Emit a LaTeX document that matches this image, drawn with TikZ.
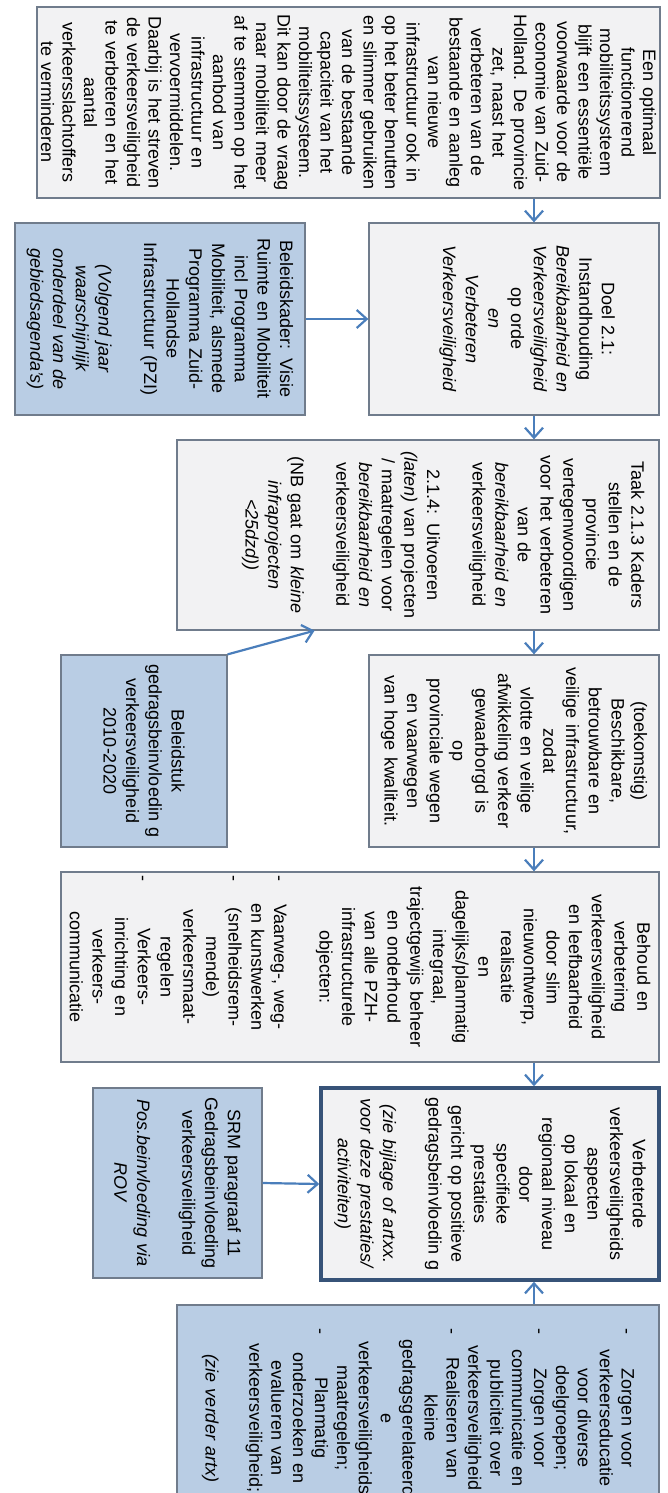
\documentclass[tikz,border=0pt]{standalone}
\usepackage{fontspec}
\setmainfont{Liberation Sans}
\usepackage{xcolor}
\usetikzlibrary{arrows.meta, calc}

\definecolor{boxgray}{RGB}{242,242,243}
\definecolor{boxblue}{RGB}{185,205,228}
\definecolor{edgegray}{RGB}{112,124,140}
\definecolor{edgedark}{RGB}{55,83,120}
\definecolor{arrowblue}{RGB}{74,126,187}

% bullet line: dash at the margin, text centred
\newcommand{\bul}[1]{\leavevmode\hbox to\hsize{\rlap{-}\hfil#1\hfil}}
\newcommand{\gap}{\mbox{}}

\begin{document}
\begin{tikzpicture}[x=1pt, y=-1pt,
    block/.style={rectangle, draw=edgegray, line width=1.3pt, rotate=-90, inner sep=0pt,
        align=center, text width=180pt, font=\fontsize{18}{22.7}\selectfont},
    greyblock/.style={block, fill=boxgray},
    blueblock/.style={block, fill=boxblue},
    line/.style={draw=arrowblue, line width=2.2pt, -{Straight Barb[length=10pt, width=18pt]}}]

    \useasboundingbox (0,0) rectangle (668,1493);
    \clip (0,0) rectangle (668,1493);
    \fill[white] (0,0) rectangle (668,1493);

    % main column
    \node [greyblock, minimum width=191pt, minimum height=623pt, text width=186pt,
        font=\fontsize{18}{21.5}\selectfont] (optimaal) at (348.5,102.5)
        {Een optimaal\\functionerend\\mobiliteitssysteem\\blijft een essentiële\\voorwaarde voor de\\economie van Zuid-\\Holland. De provincie\\zet, naast het\\verbeteren van de\\bestaande en aanleg\\van nieuwe\\infrastructuur ook in\\op het beter benutten\\en slimmer gebruiken\\van de bestaande\\capaciteit van het\\mobiliteitssysteem.\\Dit kan door de vraag\\naar mobiliteit meer\\af te stemmen op het\\aanbod van\\infrastructuur en\\vervoermiddelen.\\Daarbij is het streven\\de verkeersveiligheid\\te verbeteren en het\\aantal\\verkeersslachtoffers\\te verminderen};
    \node [greyblock, minimum width=192pt, minimum height=290pt, text depth=189pt] (doel) at (514,319)
        {Doel 2.1:\\Instandhouding\\\textit{Bereikbaarheid en}\\\textit{Verkeersveiligheid}\\op orde\\\textit{en}\\\textit{Verbeteren}\\\textit{Verkeersveiligheid}};
    \node [greyblock, minimum width=190pt, minimum height=482pt, text depth=440pt] (taak) at (418,535)
        {Taak 2.1.3 Kaders\\stellen en de\\provincie\\vertegenwoordigen\\voor het verbeteren\\van de\\\textit{bereikbaarheid en}\\verkeersveiligheid\\\gap\\2.1.4: Uitvoeren\\\textit{(laten)} van projecten\\/ maatregelen voor\\\textit{bereikbaarheid en}\\verkeersveiligheid\\\gap\\(NB gaat om \textit{kleine}\\\textit{infraprojecten}\\\textit{<25dzd))}};
    \node [greyblock, minimum width=192pt, minimum height=290pt] (beschikbaar) at (514,751)
        {(toekomstig)\\Beschikbare,\\betrouwbare en\\veilige infrastructuur,\\zodat\\vlotte en veilige\\afwikkeling verkeer\\gewaarborgd is\\op\\provinciale wegen\\en vaarwegen\\van hoge kwaliteit.};
    \node [greyblock, minimum width=190pt, minimum height=598pt, text width=184pt] (behoud) at (360,967)
        {Behoud en\\verbetering\\verkeersveiligheid\\en leefbaarheid\\door slim\\nieuwontwerp,\\realisatie\\en\\dagelijks/planmatig\\integraal,\\trajectgewijs beheer\\en onderhoud\\van alle PZH-\\infrastructurele\\objecten:\\\gap\\\bul{Vaarweg-, weg-}\\en kunstwerken\\\bul{(snelheidsrem-}\\mende)\\verkeersmaat-\\regelen\\\bul{Verkeers-}\\inrichting en\\verkeers-\\communicatie};
    \node [greyblock, draw=edgedark, line width=3.5pt, minimum width=192pt, minimum height=338pt] (verbeterde) at (490,1184)
        {Verbeterde\\verkeersveiligheids\\aspecten\\op lokaal en\\regionaal niveau\\door\\specifieke\\prestaties\\gericht op positieve\\gedragsbeinvloedin g\\\gap\\\textit{(zie bijlage of artxx.}\\\textit{voor deze prestaties/}\\\textit{activiteiten)}};
    \node [blueblock, minimum width=226pt, minimum height=482pt,
        font=\fontsize{18}{21.9}\selectfont] (zorgen) at (418,1418)
        {\bul{Zorgen voor}\\verkeerseducatie\\voor diverse\\doelgroepen;\\\bul{Zorgen voor}\\communicatie en\\publiciteit over\\verkeersveiligheid\\\bul{Realiseren van}\\kleine\\gedragsgerelateerd\\e\\verkeersveiligheids\\maatregelen;\\\bul{Planmatig}\\onderzoeken en\\evalueren van\\verkeersveiligheid;\\\gap\\\textit{(zie verder artx)}};

    % side boxes
    \node [blueblock, minimum width=192pt, minimum height=290pt, text width=170pt] (beleidskader) at (160,319)
        {Beleidskader: Visie\\Ruimte en Mobiliteit\\incl Programma\\Mobiliteit, alsmede\\Programma Zuid-\\Hollandse\\Infrastructuur (PZI)\\\gap\\\textit{(Volgend jaar}\\\textit{waarschijnlijk}\\\textit{onderdeel van de}\\\textit{gebiedsagenda's)}};
    \node [blueblock, minimum width=192pt, minimum height=166pt] (beleidstuk) at (144,751)
        {Beleidstuk\\gedragsbeinvloedin g\\verkeersveiligheid\\2010-2020};
    \node [blueblock, minimum width=190pt, minimum height=169pt] (srm) at (177.5,1183)
        {SRM paragraaf 11\\Gedragsbeinvloeding\\verkeersveiligheid\\\gap\\\textit{Pos.beinvloeding via}\\\textit{ROV}};

    % connectors
    \coordinate (spine) at (534,0);
    \path [line] (spine |- optimaal.east) -- (spine |- doel.west);
    \path [line] (spine |- doel.east) -- (spine |- taak.west);
    \path [line] (spine |- taak.east) -- (spine |- beschikbaar.west);
    \path [line] (spine |- beschikbaar.east) -- (spine |- behoud.west);
    \path [line] (spine |- behoud.east) -- (spine |- verbeterde.west);
    \path [line] (spine |- zorgen.west) -- (spine |- verbeterde.east);
    \path [line] (beleidskader.north) -- (doel.south);
    \path [line] (beleidstuk.north west) -- ($(taak.south east)!0.286!(taak.north east)$);
    \path [line] (srm.north) -- (verbeterde.south);
\end{tikzpicture}
\end{document}
